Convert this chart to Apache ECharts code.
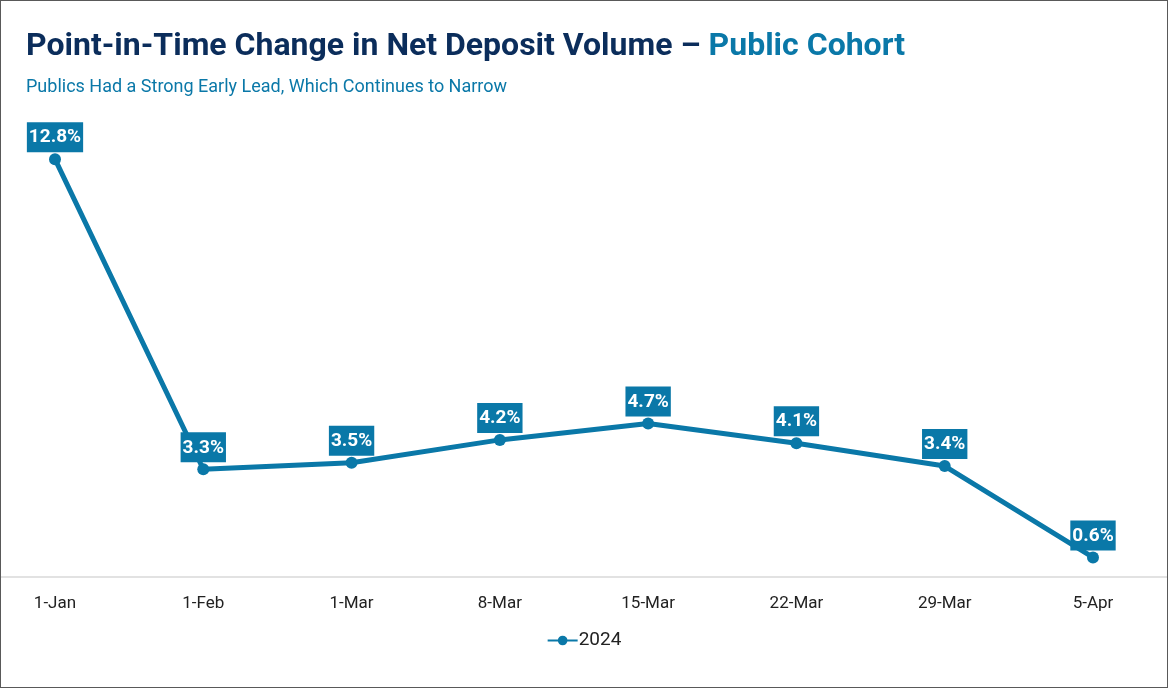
<!DOCTYPE html>
<html>
<head>
<meta charset="utf-8">
<script src="https://cdn.jsdelivr.net/npm/echarts@6/dist/echarts.min.js"></script>
<style>
    html, body { margin: 0; padding: 0; background: #fff; }
    #chart { width: 1166px; height: 686px; border: 1px solid #595959; }
</style>
</head>
<body>
<div id="chart"></div>
<script>
// values
var categories = ['1-Jan', '1-Feb', '1-Mar', '8-Mar', '15-Mar', '22-Mar', '29-Mar', '5-Apr'];
var values2024 = [12.8, 3.3, 3.5, 4.2, 4.7, 4.1, 3.4, 0.6];
var seriesName = '2024';

var BLUE = '#0a78a8';
var NAVY = '#0b2d5b';
var FONT = 'Roboto, "Noto Sans", sans-serif';

var myChart = echarts.init(document.getElementById('chart'));

var option = {
    animation: false,
    title: {
        left: 20,
        top: 25,
        text: '{a|Point-in-Time Change in Net Deposit Volume – }{b|Public Cohort}',
        subtext: 'Publics Had a Strong Early Lead, Which Continues to Narrow',
        itemGap: 15,
        textStyle: {
            rich: {
                a: { fontFamily: FONT, fontWeight: 'bold', fontSize: 32, color: NAVY },
                b: { fontFamily: FONT, fontWeight: 'bold', fontSize: 32, color: BLUE }
            }
        },
        subtextStyle: {
            fontFamily: FONT,
            fontSize: 18,
            color: BLUE
        }
    },
    legend: {
        bottom: 32,
        left: 'center',
        itemWidth: 30,
        itemHeight: 12,
        itemGap: 0,
        textStyle: { fontFamily: FONT, fontSize: 19, color: '#222', padding: [0, 0, 0, -4] },
        data: [seriesName]
    },
    grid: {
        left: 54,
        right: 74,
        top: 119,
        bottom: 110
    },
    xAxis: {
        type: 'category',
        boundaryGap: false,
        data: categories,
        axisLine: { show: false },
        axisTick: { show: false },
        axisLabel: {
            margin: 18,
            fontFamily: FONT,
            fontSize: 17,
            color: '#222'
        }
    },
    yAxis: {
        type: 'value',
        min: 0,
        max: 14,
        show: false,
        splitLine: { show: false }
    },
    series: [{
        name: seriesName,
        type: 'line',
        data: values2024,
        symbol: 'circle',
        symbolSize: 12,
        itemStyle: { color: BLUE },
        lineStyle: { color: BLUE, width: 5 },
        label: {
            show: true,
            position: 'top',
            distance: 1,
            formatter: function (p) { return p.value.toFixed(1) + '%'; },
            backgroundColor: BLUE,
            color: '#fff',
            fontFamily: FONT,
            fontWeight: 'bold',
            fontSize: 19,
            padding: [6, 2, 5, 2]
        }
    }]
};

myChart.setOption(option);

// the base line runs the full width of the picture, at the value 0
var baseY = myChart.convertToPixel({ yAxisIndex: 0 }, 0);
myChart.setOption({
    graphic: [{
        type: 'line',
        z: 0,
        shape: { x1: 0, y1: baseY, x2: myChart.getWidth(), y2: baseY },
        style: { stroke: '#d9d9d9', lineWidth: 1.5 }
    }]
});
</script>
</body>
</html>
